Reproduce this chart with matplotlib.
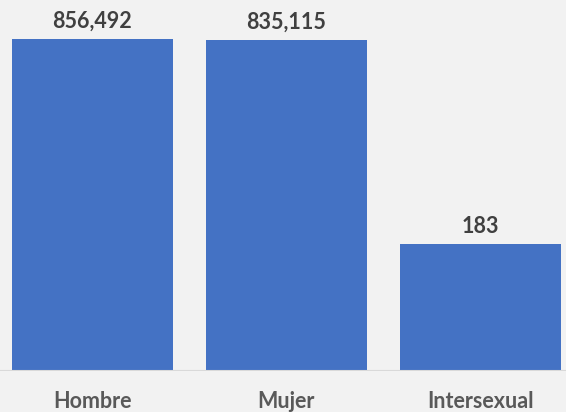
import matplotlib.pyplot as plt

categories = ['Hombre', 'Mujer', 'Intersexual']
values = [856492, 835115, 183]

BAR_COLOR = '#4472C4'
BG_COLOR = '#F2F2F2'

fig = plt.figure(figsize=(5.66, 4.12), dpi=100, facecolor=BG_COLOR)
# plot area fills the figure, baseline sits near the bottom
ax = fig.add_axes([0, 41 / 412, 1, 371 / 412], facecolor=BG_COLOR)

x = range(len(categories))
bars = ax.bar(x, values, width=0.83, color=BAR_COLOR, zorder=2)

# log axis starting at 1
ax.set_yscale('log')
ax.set_ylim(1, 10 ** (371 / 55.96))
ax.set_xlim(-0.477, 2.443)

for bar, v in zip(bars, values):
    ax.annotate(f'{v:,}', (bar.get_x() + bar.get_width() / 2, v),
                xytext=(0, 5), textcoords='offset points', ha='center', va='bottom',
                fontsize=15.5, fontweight='bold', color='#404040', family='Lato')

for i, name in enumerate(categories):
    ax.text(i, -0.082, name, transform=ax.get_xaxis_transform(), ha='center', va='center',
            fontsize=15.5, fontweight='bold', color='#595959', family='Lato')

ax.axhline(1, color='#D9D9D9', linewidth=1.5, zorder=3)
ax.set_xticks([])
ax.set_yticks([])
ax.minorticks_off()
for s in ax.spines.values():
    s.set_visible(False)

fig.savefig('out.png', dpi=100, facecolor=BG_COLOR)
